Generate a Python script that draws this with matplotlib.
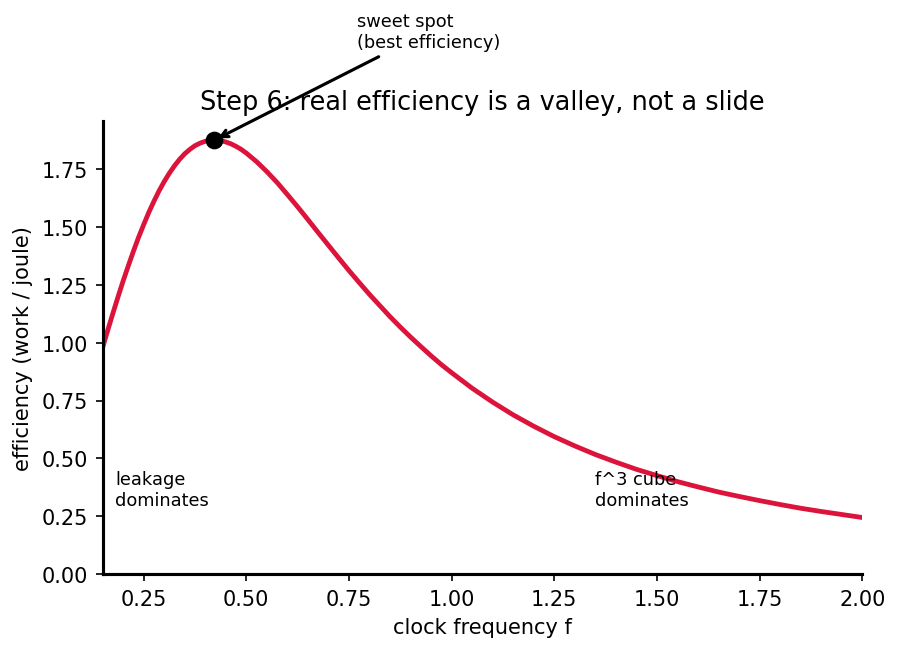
import matplotlib
matplotlib.use("Agg")
import numpy as np
import matplotlib.pyplot as plt

# values
freq = [0.15, 0.1625, 0.175, 0.1875, 0.20, 0.2125, 0.225, 0.2375, 0.25, 0.2625,
        0.275, 0.2875, 0.30, 0.3125, 0.325, 0.3375, 0.35, 0.3625, 0.375, 0.3875,
        0.40, 0.4125, 0.425, 0.4375, 0.45, 0.4625, 0.475, 0.4875, 0.50, 0.525,
        0.55, 0.575, 0.60, 0.625, 0.65, 0.675, 0.70, 0.725, 0.75, 0.775,
        0.80, 0.825, 0.85, 0.875, 0.90, 0.925, 0.95, 0.975, 1.00, 1.05,
        1.10, 1.15, 1.20, 1.25, 1.30, 1.35, 1.40, 1.45, 1.50, 1.55,
        1.60, 1.65, 1.70, 1.75, 1.80, 1.85, 1.90, 1.95, 2.00]
efficiency = [0.978, 1.053, 1.126, 1.197, 1.266, 1.331, 1.394, 1.454, 1.509, 1.562,
              1.610, 1.655, 1.695, 1.731, 1.763, 1.791, 1.815, 1.834, 1.850, 1.861,
              1.869, 1.873, 1.874, 1.872, 1.866, 1.858, 1.847, 1.834, 1.818, 1.781,
              1.738, 1.691, 1.639, 1.586, 1.531, 1.475, 1.420, 1.365, 1.311, 1.259,
              1.208, 1.160, 1.112, 1.067, 1.024, 0.983, 0.943, 0.905, 0.870, 0.803,
              0.743, 0.688, 0.639, 0.594, 0.554, 0.517, 0.484, 0.453, 0.426, 0.400,
              0.377, 0.355, 0.336, 0.318, 0.301, 0.285, 0.271, 0.258, 0.245]

best_f = 0.422
best_eff = 1.874

fig, ax = plt.subplots(figsize=(6, 4.333), dpi=150)
fig.subplots_adjust(left=0.114, right=0.958, top=0.812, bottom=0.115)

ax.plot(freq, efficiency, color="crimson", lw=2.3, solid_joinstyle="round")
ax.plot([best_f], [best_eff], "o", color="black", ms=7.5)

ax.annotate("sweet spot\n(best efficiency)", xy=(best_f, best_eff),
            xytext=(0.77, 2.26), fontsize=8.5, ha="left", va="bottom",
            arrowprops=dict(arrowstyle="->", color="black", lw=1.5),
            annotation_clip=False)

ax.text(0.18, 0.3, "leakage\ndominates", fontsize=8.5)
ax.text(1.35, 0.3, "f^3 cube\ndominates", fontsize=8.5)

ax.set_xlim(0.15, 2.0)
ax.set_ylim(bottom=0)
ax.set_title("Step 6: real efficiency is a valley, not a slide", fontsize=12.3)
ax.set_xlabel("clock frequency f")
ax.set_ylabel("efficiency (work / joule)")

ax.spines["top"].set_visible(False)
ax.spines["right"].set_visible(False)
ax.spines["left"].set_linewidth(1.5)
ax.spines["bottom"].set_linewidth(1.5)

fig.savefig("out.png")
